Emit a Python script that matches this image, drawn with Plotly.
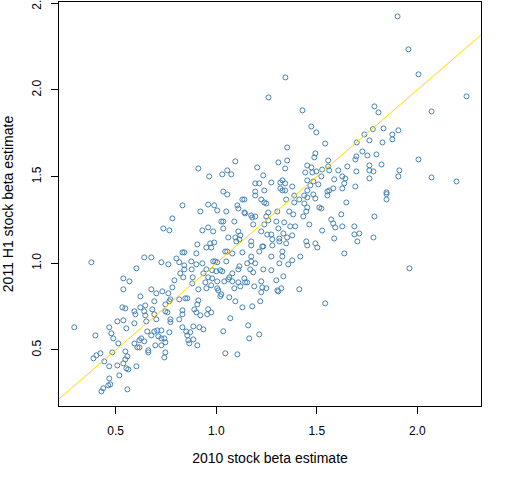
import plotly.graph_objects as go

# beta estimates, grouped roughly by area of the plot
beta_2010 = [
    # top of the plot
    1.902, 1.956, 2.006, 1.344, 1.260, 1.429, 1.787, 1.807, 2.071, 2.245,
    # right side
    1.737, 1.779, 1.832, 1.876, 1.906, 1.876, 1.699, 1.762, 1.827, 1.727, 1.697, 1.692,
    1.752, 1.797, 1.697, 1.762, 1.762, 1.782, 1.822, 1.762, 1.692, 2.006, 1.911, 1.906,
    2.071, 2.195, 1.847, 1.847, 1.847, 1.787, 1.687, 1.687, 1.712, 1.702, 1.782, 1.961,
    # upper left
    0.911, 0.832, 0.921, 0.782, 0.737, 0.767, 0.931, 0.906, 0.901, 0.832, 0.841, 0.642, 0.677, 0.802,
    # lower left
    0.379, 0.603, 0.727, 0.762, 0.816, 0.821, 0.841, 0.841, 0.876, 0.878,
    0.901, 0.931, 0.883, 0.936, 0.538, 0.568, 0.836, 0.792, 0.782, 0.881,
    0.911, 0.538, 0.677, 0.702, 0.732, 0.762, 0.623, 0.692, 0.767, 0.747,
    0.772, 0.816, 0.846, 0.856, 0.911, 0.906, 0.647, 0.533, 0.548, 0.623,
    0.593, 0.598, 0.642, 0.647, 0.682, 0.692, 0.747, 0.757, 0.832, 0.832,
    0.891, 0.901, 0.921, 0.702, 0.772, 0.772, 0.816, 0.508, 0.538, 0.593,
    0.652, 0.886, 0.916, 0.936, 0.294, 0.468, 0.553, 0.832, 0.851, 0.871,
    0.692, 0.707, 0.727, 0.657, 0.767, 0.399, 0.478, 0.677, 0.712, 0.727,
    0.742, 0.627, 0.618, 0.856, 0.861, 0.886, 0.866, 0.488, 0.593, 0.608,
    0.618, 0.513, 0.642, 0.697, 0.727, 0.747, 0.906, 0.548, 0.424, 0.483,
    0.662, 0.662, 0.747, 0.742, 0.404, 0.389, 0.443, 0.558, 0.548, 0.508,
    0.538, 0.468, 0.553, 0.563, 0.603, 0.518, 0.468, 0.473, 0.463, 0.438,
    0.429, 0.558,
    # middle, upper half
    1.473, 1.498, 1.542, 1.353, 1.493, 1.488, 1.095, 1.309, 1.353, 1.557,
    1.557, 1.453, 1.473, 1.204, 1.343, 1.652, 1.055, 1.030, 1.075, 0.965,
    1.234, 1.607, 1.478, 1.498, 1.443, 1.527, 1.562, 1.627, 1.642, 1.523,
    1.587, 1.274, 1.194, 1.214, 1.319, 1.329, 1.343, 1.453, 1.483, 1.508,
    1.637, 1.378, 1.319, 1.329, 1.239, 1.194, 1.343, 1.035, 1.055, 1.453,
    1.468, 1.562, 1.553, 1.582, 1.627, 1.194, 1.483, 1.553, 1.438, 1.388,
    1.453, 1.493, 1.130, 1.140, 1.224, 1.239, 1.249, 1.348, 1.413, 1.388,
    0.960, 0.990, 1.105, 1.438, 1.647, 1.005, 1.050, 1.110, 1.140, 1.144,
    1.259, 1.304, 1.363, 1.383, 1.453, 1.448, 1.513, 1.523, 1.433, 1.174,
    1.179, 1.194, 1.249, 1.622, 1.025, 1.035, 1.090, 1.259, 1.299, 1.338,
    1.572, 1.582, 1.463, 1.368, 1.393, 1.592, 1.184, 1.239, 1.627, 0.960,
    0.985, 1.035, 1.110, 1.120, 1.224, 1.254, 1.274, 1.309, 1.334, 1.378,
    1.527, 1.587, 1.060, 1.095, 1.100, 1.115, 1.174, 1.174, 1.229, 1.234,
    1.279, 1.279, 1.314, 1.314, 1.353, 1.348, 1.448, 1.453, 1.493, 1.503,
    0.970, 0.951, 0.975, 0.990, 1.045, 1.055, 1.080, 1.130, 1.174, 1.214,
    1.274, 1.329, 1.329, 1.418, 1.637,
    # middle, lower half
    0.985, 0.995, 1.005, 1.050, 1.174, 1.194, 1.154, 1.378, 1.358, 1.314,
    1.234, 1.274, 1.169, 1.184, 1.115, 1.110, 1.080, 1.065, 1.060, 0.951,
    0.980, 1.000, 1.020, 1.030, 0.960, 0.980, 0.946, 1.005, 1.040, 1.080,
    1.110, 1.140, 1.144, 1.154, 1.120, 1.189, 1.224, 1.229, 1.249, 1.224,
    1.299, 1.334, 1.304, 1.309, 1.324, 1.413, 0.951, 0.975, 1.005, 1.010,
    1.025, 1.020, 1.065, 1.095, 1.090, 1.130, 1.179, 1.219, 1.542, 0.960,
    0.975, 0.955, 1.070, 1.159, 1.035, 1.164, 1.214, 1.045, 1.105,
]

beta_2011h1 = [
    # top of the plot
    2.424, 2.234, 2.090, 2.072, 1.957, 1.882, 1.905, 1.870, 1.876, 1.963,
    # right side
    1.743, 1.774, 1.778, 1.743, 1.767, 1.715, 1.697, 1.709, 1.697, 1.645, 1.617, 1.599,
    1.622, 1.628, 1.530, 1.565, 1.536, 1.530, 1.570, 1.490, 1.443, 1.599, 1.536, 1.501,
    1.495, 1.472, 1.409, 1.399, 1.368, 1.270, 1.213, 1.167, 1.172, 1.126, 1.149, 0.971,
    # upper left
    1.547, 1.334, 1.299, 1.259, 1.201, 1.190, 1.190, 1.109, 1.057, 1.063, 1.063, 1.034, 1.034, 1.028,
    # lower left
    1.006, 0.971, 1.006, 0.994, 1.006, 0.942, 0.988, 0.965, 1.011, 0.965,
    0.994, 1.000, 0.919, 0.942, 0.913, 0.896, 0.919, 0.902, 0.861, 0.884,
    0.850, 0.850, 0.850, 0.827, 0.838, 0.827, 0.809, 0.781, 0.781, 0.763,
    0.792, 0.792, 0.798, 0.798, 0.786, 0.763, 0.757, 0.746, 0.740, 0.746,
    0.723, 0.706, 0.723, 0.700, 0.734, 0.706, 0.723, 0.717, 0.729, 0.706,
    0.734, 0.717, 0.700, 0.677, 0.677, 0.661, 0.677, 0.665, 0.671, 0.654,
    0.665, 0.636, 0.631, 0.619, 0.631, 0.631, 0.625, 0.631, 0.607, 0.602,
    0.607, 0.613, 0.613, 0.607, 0.602, 0.584, 0.596, 0.584, 0.579, 0.567,
    0.567, 0.567, 0.556, 0.584, 0.556, 0.561, 0.538, 0.567, 0.538, 0.515,
    0.515, 0.538, 0.550, 0.527, 0.527, 0.544, 0.527, 0.492, 0.481, 0.486,
    0.498, 0.486, 0.486, 0.457, 0.469, 0.452, 0.434, 0.463, 0.446, 0.411,
    0.423, 0.406, 0.394, 0.388, 0.406, 0.354, 0.336, 0.302, 0.296, 0.279,
    0.261, 0.273,
    # middle, upper half
    1.789, 1.755, 1.691, 1.668, 1.634, 1.611, 1.588, 1.582, 1.593, 1.593,
    1.559, 1.564, 1.553, 1.553, 1.547, 1.559, 1.536, 1.513, 1.513, 1.501,
    1.507, 1.536, 1.524, 1.530, 1.524, 1.541, 1.536, 1.501, 1.489, 1.501,
    1.484, 1.466, 1.461, 1.461, 1.466, 1.478, 1.461, 1.478, 1.472, 1.455,
    1.461, 1.443, 1.432, 1.420, 1.420, 1.414, 1.420, 1.414, 1.397, 1.420,
    1.449, 1.420, 1.414, 1.432, 1.432, 1.391, 1.397, 1.391, 1.391, 1.391,
    1.380, 1.374, 1.368, 1.368, 1.368, 1.351, 1.345, 1.368, 1.368, 1.351,
    1.339, 1.334, 1.334, 1.345, 1.351, 1.305, 1.299, 1.316, 1.293, 1.288,
    1.293, 1.299, 1.299, 1.282, 1.322, 1.299, 1.322, 1.316, 1.270, 1.276,
    1.264, 1.270, 1.270, 1.282, 1.241, 1.241, 1.241, 1.247, 1.241, 1.236,
    1.253, 1.230, 1.224, 1.213, 1.213, 1.207, 1.224, 1.224, 1.213, 1.207,
    1.184, 1.201, 1.184, 1.161, 1.184, 1.166, 1.166, 1.201, 1.172, 1.161,
    1.189, 1.143, 1.149, 1.149, 1.126, 1.138, 1.126, 1.103, 1.097, 1.097,
    1.138, 1.103, 1.143, 1.126, 1.149, 1.115, 1.126, 1.103, 1.115, 1.091,
    1.115, 1.091, 1.091, 1.120, 1.068, 1.068, 1.057, 1.063, 1.039, 1.068,
    1.039, 1.068, 1.039, 1.039, 1.057,
    # middle, lower half
    1.011, 1.011, 1.006, 1.011, 1.011, 1.000, 1.000, 1.017, 0.994, 1.000,
    0.965, 0.960, 0.965, 0.948, 0.983, 0.965, 0.942, 0.919, 0.908, 0.965,
    0.960, 0.954, 0.960, 0.954, 0.919, 0.913, 0.890, 0.896, 0.896, 0.896,
    0.890, 0.913, 0.890, 0.890, 0.867, 0.867, 0.896, 0.861, 0.856, 0.833,
    0.902, 0.925, 0.844, 0.838, 0.856, 0.850, 0.856, 0.873, 0.856, 0.844,
    0.821, 0.810, 0.804, 0.781, 0.856, 0.746, 0.752, 0.781, 0.769, 0.735,
    0.717, 0.706, 0.683, 0.642, 0.608, 0.567, 0.590, 0.481, 0.475,
]

assert len(beta_2010) == len(beta_2011h1), (len(beta_2010), len(beta_2011h1))

x_ticks = [0.5, 1.0, 1.5, 2.0]
y_ticks = [0.5, 1.0, 1.5, 2.0, 2.5]
x_range = [0.218, 2.317]
y_range = [0.177, 2.507]

# abline(0, 1)
intercept, slope = 0.0, 1.0
line_x = [x_range[0] - 0.1, x_range[1] + 0.1]
line_y = [intercept + slope * v for v in line_x]

fig = go.Figure()
fig.add_trace(go.Scatter(
    x=beta_2010, y=beta_2011h1, mode="markers",
    marker=dict(symbol="circle-open", size=5, color="#4682B4", line=dict(width=1)),
))
fig.add_trace(go.Scatter(
    x=line_x, y=line_y, mode="lines", line=dict(color="gold", width=1),
))

axis_style = dict(
    showline=True, mirror=True, linecolor="black", linewidth=1,
    ticks="outside", ticklen=7, tickcolor="black", tickwidth=1,
    showgrid=False, zeroline=False, tickformat=".1f", automargin=False,
    ticklabeloverflow="allow",
)
fig.update_xaxes(
    range=x_range, tickvals=x_ticks, ticklabelstandoff=7,
    title=dict(text="2010 stock beta estimate", standoff=15), **axis_style,
)
fig.update_yaxes(
    range=y_range, tickvals=y_ticks, tickangle=-90, ticklabelstandoff=5,
    title=dict(text="2011 H1 stock beta estimate", standoff=14), **axis_style,
)
fig.update_layout(
    width=512, height=480,
    margin=dict(l=59, r=31, t=2, b=74),
    paper_bgcolor="white", plot_bgcolor="white",
    font=dict(family="Liberation Sans, Arial", size=12, color="black"),
    showlegend=False,
)
# the page's default body margin would shift the figure by 8px
fig.write_html(
    "out.html",
    config={"displayModeBar": False},
    post_script="document.body.style.margin='0';",
)
